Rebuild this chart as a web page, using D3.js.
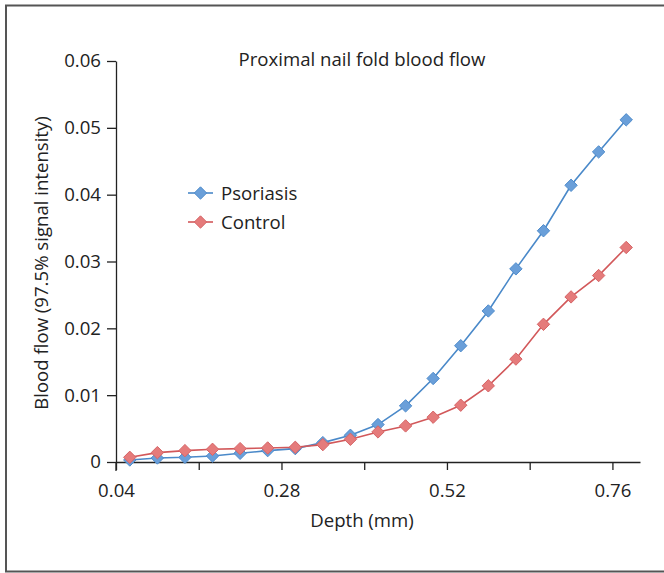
<!DOCTYPE html>
<html>
<head>
<meta charset="utf-8">
<script src="https://cdn.jsdelivr.net/npm/d3@7"></script>
<style>
  body { margin: 0; background: #fff; }
  svg { display: block; }
  text { font-family: "Open Sans", "Noto Sans", sans-serif; fill: #222; }
</style>
</head>
<body>
<script>
// depth (mm) sampled every 0.04
const depth = [0.06, 0.10, 0.14, 0.18, 0.22, 0.26, 0.30, 0.34, 0.38, 0.42,
               0.46, 0.50, 0.54, 0.58, 0.62, 0.66, 0.70, 0.74, 0.78];
const psoriasis = [0.0003, 0.0006, 0.0007, 0.0009, 0.0013, 0.0017, 0.0020, 0.0029, 0.0040, 0.0056,
                   0.0084, 0.0125, 0.0174, 0.0226, 0.0289, 0.0346, 0.0414, 0.0464, 0.0512];
const control = [0.0007, 0.0014, 0.0017, 0.0019, 0.0020, 0.0021, 0.0022, 0.0026, 0.0034, 0.0045,
                 0.0054, 0.0067, 0.0085, 0.0114, 0.0154, 0.0206, 0.0247, 0.0279, 0.0321];
const xTicks = [0.04, 0.16, 0.28, 0.40, 0.52, 0.64, 0.76];
const xLabels = [0.04, 0.28, 0.52, 0.76];
const yTicks = [0, 0.01, 0.02, 0.03, 0.04, 0.05, 0.06];

const W = 664, H = 573;
const FS = 18.6;
const svg = d3.select("body").append("svg")
    .attr("width", W).attr("height", H);

// outer frame (right edge runs off the picture)
svg.append("path")
    .attr("d", `M${W + 5},5.5 H6 V571.5 H${W + 5}`)
    .attr("fill", "none")
    .attr("stroke", "#555")
    .attr("stroke-width", 2);

const x = d3.scaleLinear().domain([0.04, 0.80]).range([116, 640]);
const y = d3.scaleLinear().domain([0, 0.06]).range([462, 61]);

const xAxis = svg.append("g")
    .attr("transform", `translate(0,${y(0)})`)
    .call(d3.axisBottom(x).tickValues(xTicks).tickSize(8).tickSizeOuter(0)
      .tickFormat(d => xLabels.some(v => Math.abs(v - d) < 1e-9) ? d3.format(".2f")(d) : ""));
xAxis.select(".domain").attr("stroke", "#222").attr("stroke-width", 1.3);
xAxis.selectAll(".tick line").attr("stroke", "#222").attr("stroke-width", 1.3);
xAxis.selectAll(".tick text").attr("font-size", FS).attr("dy", "1.3em");

const yAxis = svg.append("g")
    .attr("transform", `translate(${x(0.04)},0)`)
    .call(d3.axisLeft(y).tickValues(yTicks).tickSize(9).tickSizeOuter(0)
      .tickFormat(d => d === 0 ? "0" : d3.format(".2f")(d)));
yAxis.select(".domain").attr("stroke", "#222").attr("stroke-width", 1.3);
yAxis.selectAll(".tick line").attr("stroke", "#222").attr("stroke-width", 1.3);
yAxis.selectAll(".tick text").attr("font-size", FS).attr("x", -15);

// y-axis extends a little below the x axis
svg.append("line")
    .attr("x1", x(0.04)).attr("x2", x(0.04))
    .attr("y1", y(0)).attr("y2", y(0) + 9)
    .attr("stroke", "#222").attr("stroke-width", 1.3);

svg.append("text")
    .attr("x", 362).attr("y", 66)
    .attr("text-anchor", "middle").attr("font-size", FS)
    .text("Proximal nail fold blood flow");

svg.append("text")
    .attr("x", 362).attr("y", 527)
    .attr("text-anchor", "middle").attr("font-size", FS)
    .text("Depth (mm)");

svg.append("text")
    .attr("transform", `translate(48,263) rotate(-90)`)
    .attr("text-anchor", "middle").attr("font-size", FS)
    .text("Blood flow (97.5% signal intensity)");

const series = [
  { name: "Psoriasis", values: psoriasis, line: "#4a89c9", fill: "#6a9fd9", stroke: "#4f8ccc" },
  { name: "Control", values: control, line: "#d2585a", fill: "#e57b7b", stroke: "#d66466" }
];

const diamondPath = "M0,-6.2 L6.2,0 L0,6.2 L-6.2,0 Z";

const line = d3.line()
    .x((d, i) => x(depth[i]))
    .y(d => y(d));

series.forEach(s => {
  svg.append("path")
    .datum(s.values)
    .attr("fill", "none")
    .attr("stroke", s.line)
    .attr("stroke-width", 1.6)
    .attr("d", line);
  svg.append("g").selectAll("path")
    .data(s.values)
    .join("path")
    .attr("transform", (d, i) => `translate(${x(depth[i])},${y(d)})`)
    .attr("d", diamondPath)
    .attr("fill", s.fill)
    .attr("stroke", s.stroke)
    .attr("stroke-width", 1);
});

// legend
const legend = svg.append("g").attr("transform", "translate(188,193)");
series.forEach((s, i) => {
  const g = legend.append("g").attr("transform", `translate(0,${i * 29})`);
  g.append("line").attr("x1", 0).attr("x2", 25).attr("y1", 0).attr("y2", 0)
    .attr("stroke", s.line).attr("stroke-width", 1.6);
  g.append("path").attr("transform", "translate(12.5,0)")
    .attr("d", diamondPath).attr("fill", s.fill).attr("stroke", s.stroke);
  g.append("text").attr("x", 33).attr("y", 0).attr("dy", "0.35em")
    .attr("font-size", FS).text(s.name);
});
</script>
</body>
</html>
